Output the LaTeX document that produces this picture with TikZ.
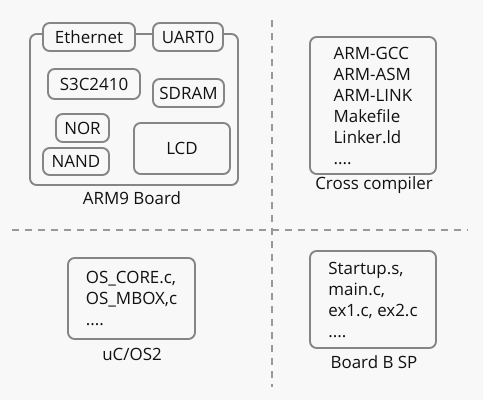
\documentclass[tikz,border=0pt]{standalone}
\usepackage{fontspec}
\setmainfont{Open Sans}
\usetikzlibrary{shapes}
\definecolor{bgcol}{HTML}{F8F8F8}
\definecolor{boxgray}{HTML}{858585}
\definecolor{sepgray}{HTML}{999999}
\definecolor{txt}{HTML}{111111}

\begin{document}
\begin{tikzpicture}
  [x=0.75pt,y=-0.75pt,every node/.style={text=txt,inner sep=0pt,font=\fontsize{12.7}{15.75}\selectfont},
   part/.style={draw=boxgray,line width=1.4pt,rounded corners=5pt,fill=bgcol},
   sep/.style={draw=sepgray,line width=1.5pt,dash pattern=on 5.25pt off 4.5pt}]
  \fill[bgcol] (0,0) rectangle (483,400);
  \useasboundingbox (0,0) rectangle (483,400);

  % separators
  \coordinate (vtop) at (272,20);
  \coordinate (vbot) at (272,387);
  \coordinate (hleft) at (12,230);
  \coordinate (hright) at (468,230);
  \draw[sep] (vtop) -- (vbot);
  \draw[sep] (hleft) -- (hright);

  % ARM9 board
  \node[part,minimum width=156pt,minimum height=113.25pt] (board) at (134,109.5) {};
  \node[part,minimum width=69pt,minimum height=21pt] (eth) at (89,37) {Ethernet};
  \node[part,minimum width=52.5pt,minimum height=21pt] (uart) at (188,37) {UART0};
  \node[part,minimum width=69pt,minimum height=22.5pt] (cpu) at (94,84) {S3C2410};
  \node[part,minimum width=53.25pt,minimum height=21pt] (sdram) at (188.5,93) {SDRAM};
  \node[part,minimum width=39.75pt,minimum height=21pt] (nor) at (82.5,128) {NOR};
  \node[part,minimum width=49.5pt,minimum height=20.25pt] (nand) at (76,161.5) {NAND};
  \node[part,minimum width=72pt,minimum height=38.25pt] (lcd) at (182,148.5) {LCD};
  \node (boardlbl) at (132,198) {ARM9 Board};

  % cross compiler
  \node[part,align=left,minimum width=94.5pt,minimum height=102.75pt] (cross) at (373,105.5)
    {ARM-GCC\\ARM-ASM\\ARM-LINK\\Makefile\\Linker.ld\\....};
  \node (crosslbl) at (374,185) {Cross compiler};

  % uC/OS2
  \node[part,align=left,minimum width=95.25pt,minimum height=60.75pt] (ucos) at (131.5,298.5)
    {OS\_CORE.c,\\OS\_MBOX,c\\....};
  \node (ucoslbl) at (132,354) {uC/OS2};

  % BSP
  \node[part,align=left,minimum width=94.5pt,minimum height=72.75pt] (bsp) at (373,299.5)
    {Startup.s,\\main.c,\\ex1.c, ex2.c\\....};
  \node (bsplbl) at (374,362) {Board B SP};
\end{tikzpicture}
\end{document}
